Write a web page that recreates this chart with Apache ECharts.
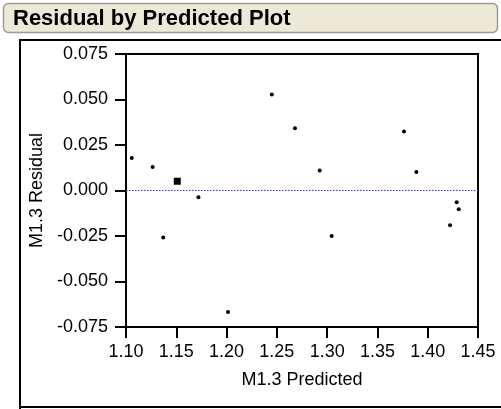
<!DOCTYPE html>
<html><head><meta charset="utf-8">
<script src="https://cdn.jsdelivr.net/npm/echarts@6/dist/echarts.min.js"></script>
<style>html,body{margin:0;padding:0;background:#fff}#c{width:501px;height:409px}</style>
</head><body><div id="c"></div>
<script>
const titleText = "Residual by Predicted Plot";
const xName = "M1.3 Predicted";
const yName = "M1.3 Residual";
const predicted = [1.1057, 1.1265, 1.137, 1.172, 1.2014, 1.245, 1.268, 1.2926, 1.3045, 1.3764, 1.3887, 1.4222, 1.4288, 1.4308];
const residual  = [0.0178, 0.0129, -0.0258, -0.0037, -0.0667, 0.0528, 0.0342, 0.0110, -0.0250, 0.0324, 0.0101, -0.0191, -0.0064, -0.0103];
const highlightX = [1.151];
const highlightY = [0.0051];
const xTicks = [1.10, 1.15, 1.20, 1.25, 1.30, 1.35, 1.40, 1.45];
const yTicks = [-0.075, -0.050, -0.025, 0.000, 0.025, 0.050, 0.075];

const chart = echarts.init(document.getElementById('c'), null, {renderer:'canvas'});
const font = 'Liberation Sans, Arial, sans-serif';
chart.setOption({
  animation:false,
  backgroundColor:'#fff',
  graphic:[
    {type:'rect', shape:{x:3.5,y:3.5,width:494,height:29,r:5}, style:{fill:'#ECE9D8', stroke:'#A09C8C', lineWidth:1.5}},
    {type:'text', left:13, top:8, style:{text:titleText, font:'bold 22px '+font, fill:'#000'}},
    {type:'polyline', shape:{points:[[20,520],[20,40],[520,40]]}, style:{stroke:'#000', lineWidth:2, fill:null}},
    {type:'line', shape:{x1:19,y1:407,x2:520,y2:407}, style:{stroke:'#000', lineWidth:2}}
  ],
  grid:{left:126, top:54, right:23, bottom:82, show:true, borderColor:'#000', borderWidth:2, backgroundColor:'transparent'},
  xAxis:{
    type:'value', min:1.10, max:1.45, interval:0.05,
    name:xName, nameLocation:'middle', nameGap:44,
    nameTextStyle:{fontFamily:font, fontSize:18, color:'#000'},
    axisLine:{onZero:false, lineStyle:{color:'#000', width:2}},
    axisTick:{show:true, length:11, inside:false, lineStyle:{color:'#000', width:2}},
    axisLabel:{fontFamily:font, fontSize:18, color:'#000', margin:16, formatter:v=>v.toFixed(2)},
    splitLine:{show:false}
  },
  yAxis:{
    type:'value', min:-0.075, max:0.075, interval:0.025,
    name:yName, nameLocation:'middle', nameGap:71, nameRotate:90,
    nameTextStyle:{fontFamily:font, fontSize:18, color:'#000'},
    axisLine:{onZero:false, lineStyle:{color:'#000', width:2}},
    axisTick:{show:true, length:11, lineStyle:{color:'#000', width:2}},
    axisLabel:{fontFamily:font, fontSize:18, color:'#000', margin:18, formatter:v=>v.toFixed(3)},
    splitLine:{show:false}
  },
  series:[
    {type:'scatter', data:predicted.map((x,i)=>[x,residual[i]]), symbol:'circle', symbolSize:4, itemStyle:{color:'#000', opacity:1},
     markLine:{silent:true, symbol:'none', label:{show:false}, lineStyle:{color:'#3030FF', type:[1.5,1.5], width:1.2}, data:[{yAxis:0}]}},
    {type:'scatter', data:highlightX.map((x,i)=>[x,highlightY[i]]), symbol:'rect', symbolSize:7, itemStyle:{color:'#000', opacity:1}}
  ]
});
</script></body></html>
